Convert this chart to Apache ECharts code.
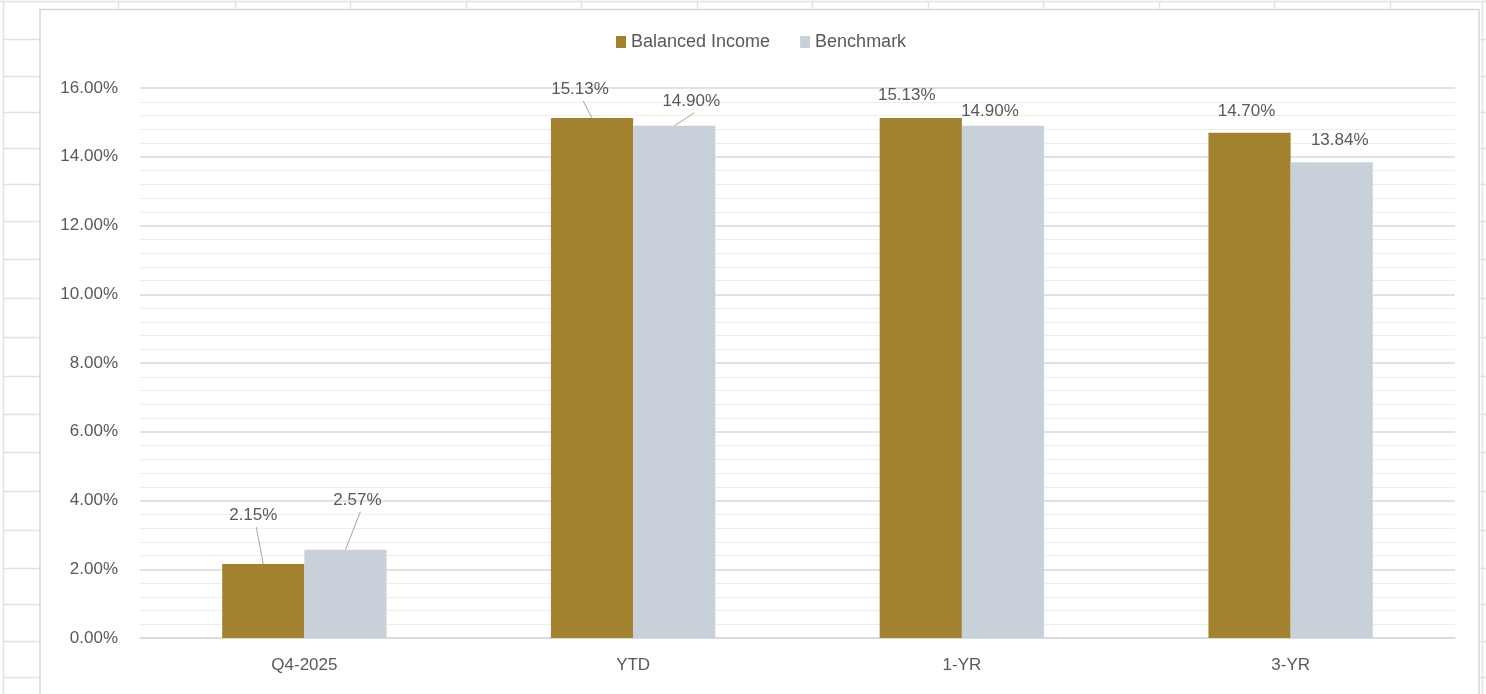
<!DOCTYPE html>
<html>
<head>
<meta charset="utf-8">
<title>Balanced Income vs Benchmark</title>
<script src="https://cdn.jsdelivr.net/npm/echarts@6/dist/echarts.min.js"></script>
<style>
  html, body { margin: 0; padding: 0; background: #ffffff; }
  #chart { width: 1486px; height: 694px; }
</style>
</head>
<body>
<div id="chart"></div>
<script>
// Period returns
const categories = ['Q4-2025', 'YTD', '1-YR', '3-YR'];
const balancedIncome = [2.15, 15.13, 15.13, 14.70];
const benchmark = [2.57, 14.90, 14.90, 13.84];
const seriesNames = ['Balanced Income', 'Benchmark'];
const yTicks = [0, 2, 4, 6, 8, 10, 12, 14, 16];

// Manual label placement (dx, dy, leader line) per series and category
const labelNudges = [
  [[-10, -35, true], [-12, -15, true], [-14, -9, false], [-3, -8, false]],
  [[12, -36, true], [17, -11, true], [-13, -1, false], [8, -8, false]]
];

const GOLD = '#a2822f';
const SLATE = '#c8d0d9';
const TEXT = '#595959';
const FONT = '"Liberation Sans", Arial, sans-serif';
const BAR_SHARE = 0.25;      // each bar takes a quarter of its category band
const LABEL_DISTANCE = 5;

// Worksheet cells around the chart object
const sheetLine = '#e2e2e2';
const colEdges = [118, 235, 350, 466, 581, 697, 812, 928, 1043, 1159, 1274, 1390];
const rowEdges = [39, 76, 112, 148, 184, 221, 259, 298, 337, 376, 414, 452, 491, 530, 568, 604, 641, 677];
const sheet = [];
sheet.push({ type: 'line', silent: true, z: -10,
  shape: { x1: 0, y1: 1.5, x2: 1486, y2: 1.5 }, style: { stroke: sheetLine, lineWidth: 1.5 } });
sheet.push({ type: 'line', silent: true, z: -10,
  shape: { x1: 3.5, y1: 1, x2: 3.5, y2: 694 }, style: { stroke: sheetLine, lineWidth: 1.5 } });
sheet.push({ type: 'line', silent: true, z: -10,
  shape: { x1: 1482.5, y1: 1, x2: 1482.5, y2: 694 }, style: { stroke: sheetLine, lineWidth: 1.5 } });
colEdges.forEach(function (x) {
  sheet.push({ type: 'line', silent: true, z: -10,
    shape: { x1: x + 0.5, y1: 1, x2: x + 0.5, y2: 9 }, style: { stroke: sheetLine, lineWidth: 1.5 } });
});
rowEdges.forEach(function (y) {
  sheet.push({ type: 'line', silent: true, z: -10,
    shape: { x1: 3, y1: y + 0.5, x2: 40, y2: y + 0.5 }, style: { stroke: sheetLine, lineWidth: 1.5 } });
  sheet.push({ type: 'line', silent: true, z: -10,
    shape: { x1: 1479, y1: y + 0.5, x2: 1486, y2: y + 0.5 }, style: { stroke: sheetLine, lineWidth: 1.5 } });
});
// Chart object frame
sheet.push({ type: 'rect', silent: true, z: -9,
  shape: { x: 40, y: 9.5, width: 1439, height: 720 },
  style: { fill: '#ffffff', stroke: '#d6d6d6', lineWidth: 1.5 } });

function buildSeries(idx, values, color) {
  return {
    name: seriesNames[idx],
    type: 'bar',
    barGap: '0%',
    barCategoryGap: '50%',
    itemStyle: { color: color },
    data: values,
    label: {
      show: true,
      position: 'top',
      distance: LABEL_DISTANCE,
      color: TEXT,
      fontFamily: FONT,
      fontSize: 17,
      formatter: function (p) { return p.value.toFixed(2) + '%'; }
    },
    labelLayout: function (params) {
      const n = labelNudges[idx][params.dataIndex];
      return { dx: n[0], dy: n[1] };
    }
  };
}

// Leader lines for labels that sit well away from their bar
const leaderData = [];
[balancedIncome, benchmark].forEach(function (values, s) {
  values.forEach(function (v, i) {
    if (labelNudges[s][i][2]) leaderData.push([i, v, s]);
  });
});

const leaderSeries = {
  type: 'custom',
  silent: true,
  z: 3,
  data: leaderData,
  encode: { x: 0, y: 1 },
  renderItem: function (params, api) {
    const cat = api.value(0);
    const s = api.value(2);
    const top = api.coord([cat, api.value(1)]);
    const barW = api.size([1, 0])[0] * BAR_SHARE;
    const cx = top[0] + (s === 0 ? -barW / 2 : barW / 2);
    const n = labelNudges[s][cat];
    const endX = cx + n[0] + 3;
    const endY = top[1] - LABEL_DISTANCE + n[1] + 3;
    return {
      type: 'line',
      shape: { x1: cx, y1: top[1], x2: endX, y2: endY },
      style: { stroke: '#a6a6a6', lineWidth: 1 }
    };
  }
};

const chart = echarts.init(document.getElementById('chart'), null, { renderer: 'canvas' });
chart.setOption({
  backgroundColor: '#ffffff',
  animation: false,
  graphic: sheet,
  legend: {
    data: seriesNames,
    left: 611,
    top: 28,
    itemWidth: 10,
    itemHeight: 12,
    itemGap: 30,
    icon: 'rect',
    textStyle: { color: TEXT, fontFamily: FONT, fontSize: 18 }
  },
  grid: { left: 140, right: 31, top: 88, bottom: 56 },
  xAxis: {
    type: 'category',
    data: categories,
    axisLine: { show: true, lineStyle: { color: '#d9d9d9', width: 1.5 } },
    axisTick: { show: false },
    axisLabel: { color: TEXT, fontFamily: FONT, fontSize: 17, margin: 19 }
  },
  yAxis: {
    type: 'value',
    min: yTicks[0],
    max: yTicks[yTicks.length - 1],
    interval: yTicks[1] - yTicks[0],
    axisLine: { show: false },
    axisTick: { show: false },
    axisLabel: {
      color: TEXT, fontFamily: FONT, fontSize: 17, margin: 22,
      formatter: function (v) { return v.toFixed(2) + '%'; }
    },
    splitLine: { show: true, lineStyle: { color: '#d9d9d9', width: 1.5 } },
    minorTick: { show: false, splitNumber: 5 },
    minorSplitLine: { show: true, lineStyle: { color: '#ededed', width: 1 } }
  },
  series: [
    buildSeries(0, balancedIncome, GOLD),
    buildSeries(1, benchmark, SLATE),
    leaderSeries
  ]
});
</script>
</body>
</html>
